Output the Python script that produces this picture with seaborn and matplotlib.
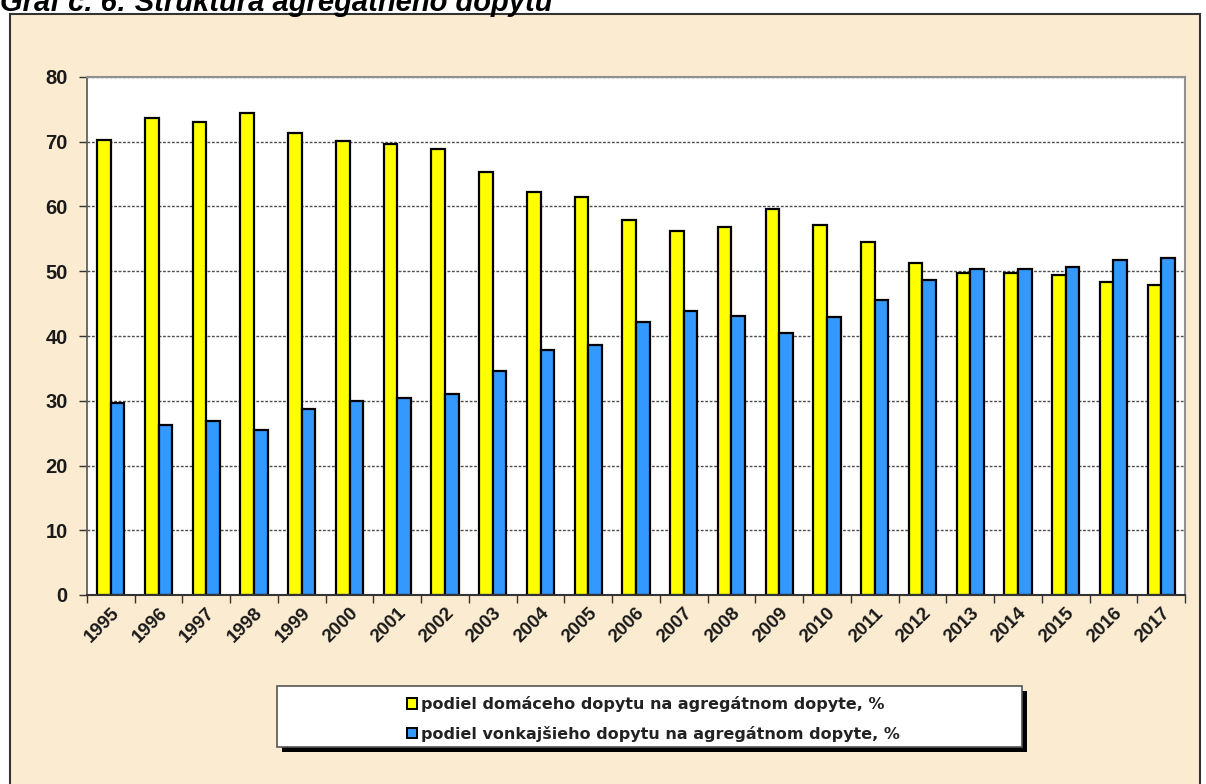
import numpy as np
import pandas as pd
import matplotlib
matplotlib.use("Agg")
import matplotlib.pyplot as plt
import seaborn as sns
from matplotlib.patches import Rectangle, Patch

# data (share in aggregate demand, %)
years = [str(y) for y in range(1995, 2018)]
domestic = [70.3, 73.7, 73.1, 74.5, 71.3, 70.1, 69.6, 68.9, 65.4, 62.2, 61.4, 57.9,
            56.2, 56.9, 59.6, 57.1, 54.5, 51.3, 49.7, 49.7, 49.4, 48.3, 47.9]
external = [29.7, 26.3, 26.9, 25.5, 28.7, 29.9, 30.4, 31.1, 34.6, 37.8, 38.6, 42.1,
            43.8, 43.1, 40.4, 42.9, 45.5, 48.7, 50.3, 50.3, 50.6, 51.7, 52.1]
labels = ['podiel domáceho dopytu na agregátnom dopyte, %',
          'podiel vonkajšieho dopytu na agregátnom dopyte, %']
colors = ['#FFFF00', '#3399FF']
title = 'Graf č. 6: Štruktúra agregátneho dopytu'

df = pd.DataFrame({'rok': years * 2,
                   'hodnota': domestic + external,
                   'ukazovatel': [labels[0]] * len(years) + [labels[1]] * len(years)})

sns.set_style('white')
plt.rcParams['font.family'] = ['Liberation Sans', 'DejaVu Sans']

W, H = 1206, 784
fig = plt.figure(figsize=(W / 100, H / 100), dpi=100)
fig.patch.set_facecolor('white')

# outer beige frame
fig.patches.append(Rectangle((10 / W, -0.02), 1190 / W, 1 - 14 / H + 0.02, transform=fig.transFigure,
                             facecolor='#FBEBD0', edgecolor='#333333', lw=1.5, zorder=-10))

# title, clipped at the top edge as in the source
fig.text(0.0, 1 - 11 / H, title, fontsize=21, fontweight='bold', style='italic',
         va='baseline', ha='left', color='black')

ax = fig.add_axes([87 / W, 1 - 595 / H, (1185 - 87) / W, (595 - 77) / H])
ax.set_zorder(5)
ax.set_facecolor('white')

sns.barplot(data=df, x='rok', y='hodnota', hue='ukazovatel', palette=colors, saturation=1,
            width=0.57, gap=0, edgecolor='black', linewidth=1.6, ax=ax, legend=False)

ax.set_xlim(-0.5, len(years) - 0.5)
ax.set_ylim(0, 80)
ax.set_yticks(np.arange(0, 81, 10))
ax.set_xlabel('')
ax.set_ylabel('')

ax.yaxis.grid(True, linestyle=(0, (2, 1.2)), color='#4d4d4d', lw=1.0)
ax.set_axisbelow(True)

# category boundary ticks like Excel
ax.set_xticks(np.arange(-0.5, len(years), 1), minor=True)
ax.tick_params(bottom=True, left=True, which='both')
ax.tick_params(axis='x', which='minor', length=6, width=1, color='#333333', direction='out')
ax.tick_params(axis='x', which='major', length=0, pad=7)
ax.tick_params(axis='y', length=6, width=1, color='#333333', direction='out', pad=8)
ax.set_xticks(range(len(years)))
ax.set_xticklabels(years, rotation=45, ha='right', rotation_mode='anchor',
                   fontsize=13.5, fontweight='bold')
for t in ax.get_yticklabels():
    t.set_fontsize(14.5)
    t.set_fontweight('bold')
for t in ax.get_xticklabels() + ax.get_yticklabels():
    t.set_color('#1a1a1a')

for s in ['top', 'right']:
    ax.spines[s].set_color('#909090')
    ax.spines[s].set_linewidth(1.5)
ax.spines['left'].set_color('#555555')
ax.spines['bottom'].set_color('#333333')
ax.spines['left'].set_linewidth(1.2)
ax.spines['bottom'].set_linewidth(1.5)

# legend box with shadow
fig.patches.append(Rectangle((282 / W, 1 - 752 / H), 745 / W, 61 / H, transform=fig.transFigure,
                             facecolor='black', edgecolor='none', zorder=1))
fig.patches.append(Rectangle((277 / W, 1 - 747 / H), 745 / W, 61 / H, transform=fig.transFigure,
                             facecolor='white', edgecolor='#555555', lw=1.2, zorder=2))
handles = [Patch(facecolor=c, edgecolor='black', lw=1.4) for c in colors]
leg = fig.legend(handles, labels, loc='upper left', bbox_to_anchor=(396 / W, 1 - 685 / H),
                 frameon=False, handlelength=0.6, handleheight=0.6, handletextpad=0.25,
                 labelspacing=0.85, borderpad=0.2,
                 prop={'family': 'DejaVu Sans', 'weight': 'bold', 'size': 11.5})
for t in leg.get_texts():
    t.set_color('#222222')
leg.set_zorder(3)

fig.savefig('out.png', dpi=100)
